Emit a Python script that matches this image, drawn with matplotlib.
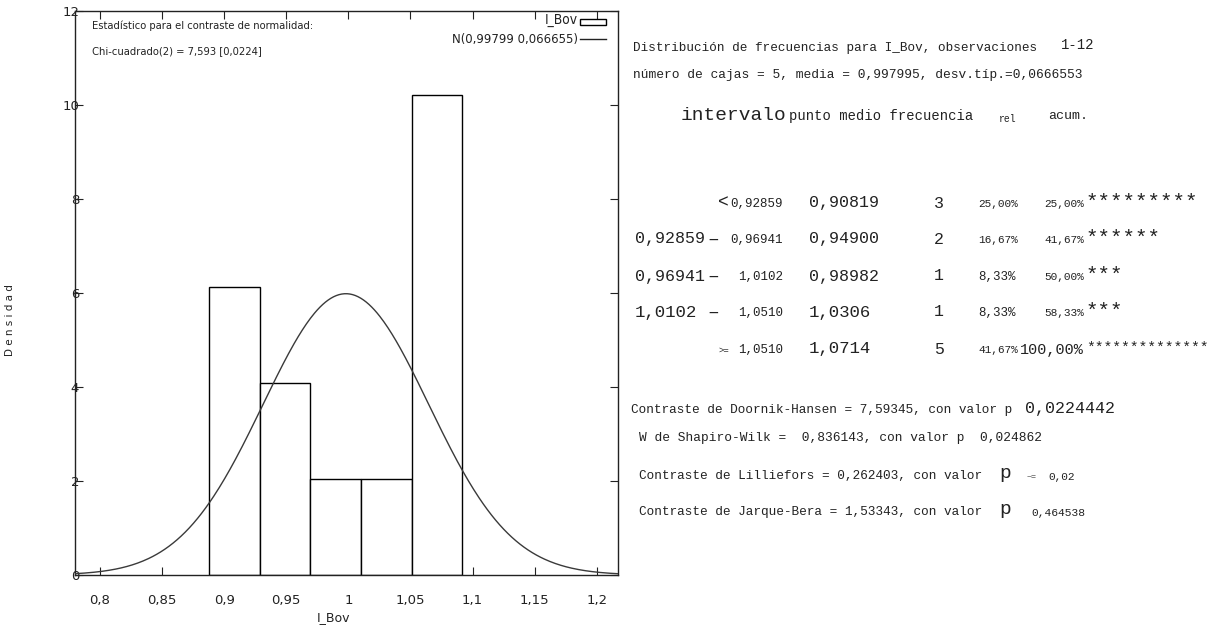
import numpy as np
import matplotlib
matplotlib.use("Agg")
from matplotlib import pyplot as plt
from matplotlib import font_manager

# datos del histograma (gretl)
punto_medio = [0.90819, 0.94900, 0.98982, 1.0306, 1.0714]
frecuencia = [3, 2, 1, 1, 5]
ancho = 0.040818
n_obs = 12
media = 0.997995
desv = 0.0666553

# tabla de frecuencias
lim_izq = ["<", "0,92859", "0,96941", "1,0102", ""]
lim_der = ["0,92859", "0,96941", "1,0102", "1,0510", "1,0510"]
medio_txt = ["0,90819", "0,94900", "0,98982", "1,0306", "1,0714"]
frec_txt = ["3", "2", "1", "1", "5"]
rel_txt = ["25,00%", "16,67%", "8,33%", "8,33%", "41,67%"]
acum_txt = ["25,00%", "41,67%", "50,00%", "58,33%", "100,00%"]
estrellas = ["*********", "******", "***", "***", "**************"]

xticks = [0.8, 0.85, 0.9, 0.95, 1, 1.05, 1.1, 1.15, 1.2]
xtick_lab = ["0,8", "0,85", "0,9", "0,95", "1", "1,05", "1,1", "1,15", "1,2"]
yticks = [0, 2, 4, 6, 8, 10, 12]

W, H = 1210, 630
MONO = "Liberation Mono"

# fuente estrecha si existe
condensada = [f for f in font_manager.fontManager.ttflist
              if "Condensed" in f.fname or "Narrow" in f.fname]
if any("Liberation Sans Narrow" == f.name for f in condensada):
    NARROW = dict(family="Liberation Sans Narrow")
    ESCALA = 1.23
elif any("DejaVuSansCondensed" in f.fname for f in condensada):
    NARROW = dict(family="DejaVu Sans", stretch="condensed")
    ESCALA = 1.1
else:
    NARROW = dict(family="DejaVu Sans")
    ESCALA = 1.0


def px(x, y):
    # pasa pixeles a fraccion de figura
    return x / W, 1 - y / H


def txt(fig, x, y, s, size, ha="left", **kw):
    fx, fy = px(x, y)
    fig.text(fx, fy, s, fontsize=size, ha=ha, va="center", family=MONO,
             color="#222222", **kw)


def txt_izq(fig, x, y, s, size, ha="left"):
    fx, fy = px(x, y)
    fig.text(fx, fy, s, va="center", ha=ha, color="#222222",
             fontsize=size * ESCALA, **NARROW)


fig = plt.figure(figsize=(12.1, 6.3), dpi=100)
ax = fig.add_axes([75 / W, 55 / H, 543 / W, 564 / H])

densidad = np.array(frecuencia) / (n_obs * ancho)
ax.bar(punto_medio, densidad, width=ancho, color="white", edgecolor="black",
       linewidth=1.0, zorder=2)

xs = np.linspace(0.78, 1.217, 400)
ys = np.exp(-0.5 * ((xs - media) / desv) ** 2) / (desv * np.sqrt(2 * np.pi))
ax.plot(xs, ys, color="#3a3a3a", linewidth=1.0, zorder=3)

ax.set_xlim(0.78, 1.217)
ax.set_ylim(0, 12)
ax.set_xticks(xticks)
ax.set_xticklabels(xtick_lab)
ax.set_yticks(yticks)
ax.tick_params(direction="in", length=6, width=0.8, top=True, right=True,
               labelsize=9.5, colors="#222222")
ax.tick_params(axis="x", pad=14)
ax.tick_params(axis="y", pad=-3)
for s in ax.spines.values():
    s.set_linewidth(1.0)
    s.set_color("#222222")

# textos del grafico
txt_izq(fig, 92, 26, "Estadístico para el contraste de normalidad:", 7.3)
txt_izq(fig, 92, 51, "Chi-cuadrado(2) = 7,593 [0,0224]", 7.3)
txt_izq(fig, 578, 20, "I_Bov", 9, ha="right")
txt_izq(fig, 578, 39, "N(0,99799 0,066655)", 8.5, ha="right")
r = plt.Rectangle(px(580, 25), 26 / W, 6 / H, transform=fig.transFigure,
                  facecolor="white", edgecolor="black", linewidth=1.0)
fig.add_artist(r)
fig.add_artist(plt.Line2D([580 / W, 606 / W], [1 - 39 / H, 1 - 39 / H],
                          transform=fig.transFigure, color="#222222",
                          linewidth=1.0))

fx, fy = px(333, 618)
fig.text(fx, fy, "I_Bov", fontsize=9, family="DejaVu Sans", ha="center",
         va="center", color="#222222")
fx, fy = px(10, 320)
fig.text(fx, fy, "D e n s i d a d", fontsize=7.5, family="DejaVu Sans",
         ha="center", va="center", rotation=90, color="#222222")

# bloque de texto de la derecha
txt(fig, 633, 48, "Distribución de frecuencias para I_Bov, observaciones", 9.1)
txt(fig, 1061, 45, "1-12", 10)
txt(fig, 633, 75, "número de cajas = 5, media = 0,997995, desv.típ.=0,0666553", 9.3)

txt(fig, 681, 115, "intervalo", 14)
txt(fig, 789, 116, "punto medio frecuencia", 10)
txt(fig, 999, 119, "rel", 7)
txt(fig, 1048, 116, "acum.", 9.5)

filas_y = [203, 239, 276, 312, 349]
for i, y in enumerate(filas_y):
    if lim_izq[i] == "<":
        txt(fig, 729, y, "<", 13, ha="right")
    elif lim_izq[i]:
        size_i = 12 if len(lim_izq[i]) == 7 else 12.5
        txt(fig, 635, y, lim_izq[i], size_i)
        txt(fig, 719, y, "–", 14, ha="right")
    else:
        txt(fig, 729, y + 1, ">=", 6.5, ha="right")
    txt(fig, 783, y + 1, lim_der[i], 9, ha="right")
    size_m = 12 if len(medio_txt[i]) == 7 else 12.5
    txt(fig, 809, y, medio_txt[i], size_m)
    txt(fig, 939, y, frec_txt[i], 12, ha="center")
    size_rel = 9 if rel_txt[i].startswith("8") else 8
    txt(fig, 978, y + 1, rel_txt[i], size_rel)
    size_ac = 11 if acum_txt[i].startswith("100") else 8
    txt(fig, 1084, y + 1, acum_txt[i], size_ac, ha="right")
    size_st = 10.5 if len(estrellas[i]) > 10 else 15
    txt(fig, 1086, y - 1, estrellas[i], size_st)

txt(fig, 631, 410, "Contraste de Doornik-Hansen = 7,59345, con valor p", 9.2)
txt(fig, 1025, 408, "0,0224442", 12)
txt(fig, 639, 438, "W de Shapiro-Wilk =  0,836143, con valor p  0,024862", 9.3)
txt(fig, 639, 476, "Contraste de Lilliefors = 0,262403, con valor", 9.2)
txt(fig, 999, 474, "p", 14)
txt(fig, 1027, 478, "~=", 6)
txt(fig, 1048, 477, "0,02", 8)
txt(fig, 639, 512, "Contraste de Jarque-Bera = 1,53343, con valor", 9.2)
txt(fig, 999, 510, "p", 14)
txt(fig, 1031, 513, "0,464538", 8.1)

fig.savefig("out.png", dpi=100)
